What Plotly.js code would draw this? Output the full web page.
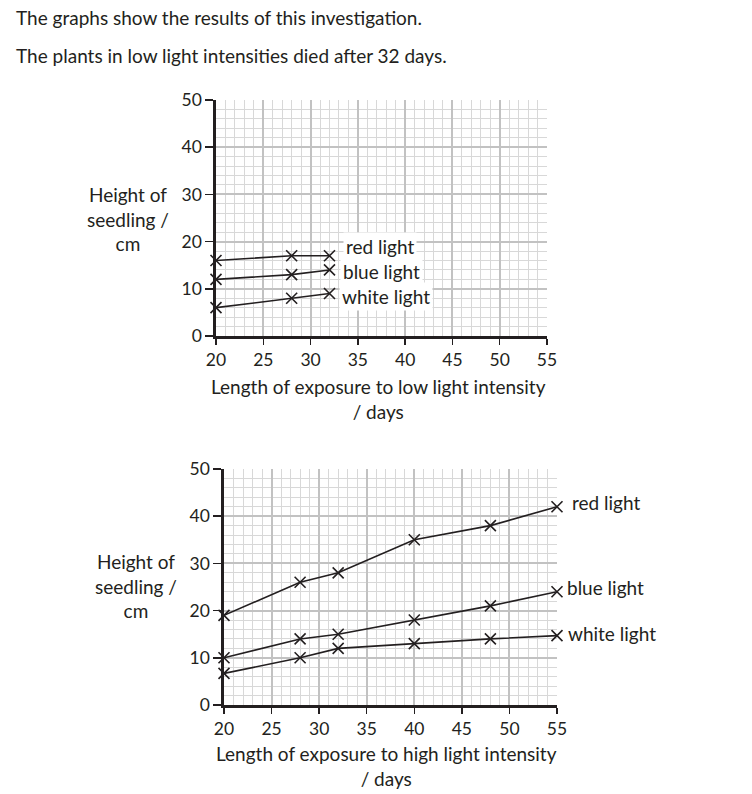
<!DOCTYPE html>
<html>
<head>
<meta charset="utf-8">
<script src="https://cdn.plot.ly/plotly-3.0.1.min.js"></script>
<style>html,body{margin:0;padding:0;background:#fff;}#chart{width:752px;height:794px;}</style>
</head>
<body>
<div id="chart"></div>
<script>
// ---- data ----
const lowDays = [20, 28, 32];
const lowRed = [16, 17, 17];
const lowBlue = [12, 13, 14];
const lowWhite = [6, 8, 9];

const highDays = [20, 28, 32, 40, 48, 55];
const highRed = [19, 26, 28, 35, 38, 42];
const highBlue = [10, 14, 15, 18, 21, 24];
const highWhite = [6.7, 10, 12, 13, 14, 14.7];

const seriesNames = ['red light', 'blue light', 'white light'];
const headerLines = ['The graphs show the results of this investigation.',
                     'The plants in low light intensities died after 32 days.'];
const yTitle = 'Height of<br>seedling /<br>cm';
const xTitleLow = 'Length of exposure to low light intensity<br>/ days';
const xTitleHigh = 'Length of exposure to high light intensity<br>/ days';

// ---- styling ----
const W = 752, H = 794;
const ink = '#231f20';
const FONT = 'Lato, "Open Sans", sans-serif';
const px = x => x / W;
const py = y => 1 - y / H;

function trace(x, y, xa, ya, name) {
  return {
    x: x, y: y, xaxis: xa, yaxis: ya, name: name, type: 'scatter', mode: 'lines+markers',
    line: {color: ink, width: 1.6},
    marker: {symbol: 'x-thin', size: 11, color: ink, line: {color: ink, width: 1.6}},
    cliponaxis: false, showlegend: false, hoverinfo: 'skip'
  };
}

const data = [
  trace(lowDays, lowRed, 'x', 'y', seriesNames[0]),
  trace(lowDays, lowBlue, 'x', 'y', seriesNames[1]),
  trace(lowDays, lowWhite, 'x', 'y', seriesNames[2]),
  trace(highDays, highRed, 'x2', 'y2', seriesNames[0]),
  trace(highDays, highBlue, 'x2', 'y2', seriesNames[1]),
  trace(highDays, highWhite, 'x2', 'y2', seriesNames[2])
];

function xAxis(domain, anchor) {
  return {
    domain: domain, anchor: anchor, range: [20, 55], tick0: 0, dtick: 5,
    ticks: 'outside', ticklen: 6, tickwidth: 1.5, tickcolor: ink,
    showline: true, linewidth: 2.6, linecolor: ink, zeroline: false,
    showgrid: true, gridcolor: '#c2c2c2', gridwidth: 2,
    minor: {dtick: 1, showgrid: true, gridcolor: '#d8d8d8', gridwidth: 1, ticks: ''},
    tickfont: {family: FONT, size: 17.5, color: ink}, fixedrange: true
  };
}
function yAxis(domain, anchor) {
  return {
    domain: domain, anchor: anchor, range: [0, 50], tick0: 0, dtick: 10,
    ticks: 'outside', ticklen: 8, tickwidth: 1.5, tickcolor: ink,
    showline: true, linewidth: 2.6, linecolor: ink, zeroline: false,
    showgrid: true, gridcolor: '#c2c2c2', gridwidth: 2,
    minor: {dtick: 2, showgrid: true, gridcolor: '#d8d8d8', gridwidth: 1, ticks: ''},
    tickfont: {family: FONT, size: 17.5, color: ink}, fixedrange: true
  };
}

const txt = (size) => ({family: FONT, size: size, color: ink});

const annotations = [
  {xref: 'paper', yref: 'paper', x: px(14), y: py(17), xanchor: 'left', yanchor: 'middle', text: headerLines[0], showarrow: false, font: txt(19)},
  {xref: 'paper', yref: 'paper', x: px(14), y: py(55), xanchor: 'left', yanchor: 'middle', text: headerLines[1], showarrow: false, font: txt(19)},
  {xref: 'paper', yref: 'paper', x: px(128), y: py(219), xanchor: 'center', yanchor: 'middle', align: 'center', text: yTitle, showarrow: false, font: txt(19)},
  {xref: 'paper', yref: 'paper', x: px(136), y: py(586), xanchor: 'center', yanchor: 'middle', align: 'center', text: yTitle, showarrow: false, font: txt(19)},
  {xref: 'paper', yref: 'paper', x: px(378), y: py(399), xanchor: 'center', yanchor: 'middle', align: 'center', text: xTitleLow, showarrow: false, font: txt(19)},
  {xref: 'paper', yref: 'paper', x: px(386), y: py(766), xanchor: 'center', yanchor: 'middle', align: 'center', text: xTitleHigh, showarrow: false, font: txt(19)},
  // series labels, low light chart (white boxes over grid)
  {xref: 'x', yref: 'y', x: lowDays[2], y: lowRed[2], xanchor: 'left', yanchor: 'middle', xshift: 14, yshift: 9, text: seriesNames[0], showarrow: false, font: txt(19), bgcolor: '#ffffff', borderpad: 2},
  {xref: 'x', yref: 'y', x: lowDays[2], y: lowBlue[2], xanchor: 'left', yanchor: 'middle', xshift: 11, yshift: -2, text: seriesNames[1], showarrow: false, font: txt(19), bgcolor: '#ffffff', borderpad: 2},
  {xref: 'x', yref: 'y', x: lowDays[2], y: lowWhite[2], xanchor: 'left', yanchor: 'middle', xshift: 10, yshift: -3, text: seriesNames[2], showarrow: false, font: txt(19), bgcolor: '#ffffff', borderpad: 2},
  // series labels, high light chart
  {xref: 'x2', yref: 'y2', x: highDays[5], y: highRed[5], xanchor: 'left', yanchor: 'middle', xshift: 13, yshift: 4, text: seriesNames[0], showarrow: false, font: txt(19)},
  {xref: 'x2', yref: 'y2', x: highDays[5], y: highBlue[5], xanchor: 'left', yanchor: 'middle', xshift: 8, yshift: 4, text: seriesNames[1], showarrow: false, font: txt(19)},
  {xref: 'x2', yref: 'y2', x: highDays[5], y: highWhite[5], xanchor: 'left', yanchor: 'middle', xshift: 9, yshift: 2, text: seriesNames[2], showarrow: false, font: txt(19)}
];

const layout = {
  width: W, height: H,
  margin: {l: 0, r: 0, t: 0, b: 0},
  paper_bgcolor: '#ffffff', plot_bgcolor: '#ffffff',
  font: {family: FONT, color: ink},
  showlegend: false,
  xaxis: xAxis([px(216), px(547)], 'y'),
  yaxis: yAxis([py(336), py(100)], 'x'),
  xaxis2: xAxis([px(224), px(557)], 'y2'),
  yaxis2: yAxis([py(705), py(469)], 'x2'),
  annotations: annotations
};

Plotly.newPlot('chart', data, layout, {staticPlot: true, displayModeBar: false});
</script>
</body>
</html>
